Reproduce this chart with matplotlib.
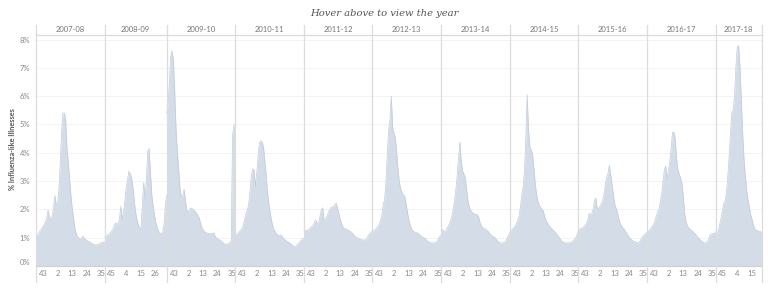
import numpy as np
import matplotlib.pyplot as plt

# weekly % ILI per season
seasons = ["2007-08", "2008-09", "2009-10", "2010-11", "2011-12", "2012-13",
           "2013-14", "2014-15", "2015-16", "2016-17", "2017-18"]
first_week = [38, 40, 38, 38, 38, 38, 38, 38, 38, 38, 40]

ili_2007 = [1.06, 1.05, 1.15, 1.24, 1.30, 1.38, 1.46, 1.55, 1.70, 1.97, 1.70, 1.68, 1.76,
            2.05, 2.49, 2.15, 2.20, 2.70, 3.60, 4.70, 5.40, 5.40, 5.20, 4.20, 3.65, 3.05,
            2.47, 2.00, 1.62, 1.30, 1.12, 1.02, 0.98, 0.96, 0.98, 1.05, 0.96, 0.92, 0.89,
            0.86, 0.84, 0.80, 0.78, 0.75, 0.74, 0.74, 0.75, 0.78, 0.81, 0.83, 0.84, 0.85]
ili_2008 = [1.02, 1.05, 1.08, 1.11, 1.16, 1.22, 1.28, 1.40, 1.52, 1.47, 1.50, 1.65, 2.10,
            1.65, 1.90, 2.30, 2.75, 3.05, 3.35, 3.25, 3.10, 2.80, 2.30, 1.88, 1.65, 1.45,
            1.35, 1.30, 2.20, 2.95, 2.35, 3.05, 4.05, 4.15, 3.30, 2.50, 2.10, 1.80, 1.52,
            1.35, 1.22, 1.16, 1.15, 1.16, 1.45, 2.10, 2.50]
ili_2009 = [5.40, 5.65, 6.50, 7.40, 7.60, 7.30, 6.20, 4.80, 4.00, 3.40, 2.70, 2.45, 2.45,
            2.70, 2.30, 1.95, 1.90, 1.98, 2.05, 2.02, 1.97, 1.93, 1.88, 1.80, 1.72, 1.55,
            1.38, 1.28, 1.22, 1.18, 1.16, 1.15, 1.14, 1.14, 1.13, 1.17, 1.05, 0.98, 0.95,
            0.92, 0.90, 0.86, 0.81, 0.77, 0.75, 0.77, 0.79, 0.83, 0.88, 4.60, 4.95, 5.00]
ili_2010 = [1.07, 1.10, 1.15, 1.20, 1.26, 1.31, 1.45, 1.65, 1.85, 1.97, 2.17, 2.65, 3.20,
            3.43, 3.40, 2.80, 3.30, 3.90, 4.35, 4.42, 4.38, 4.20, 3.70, 3.20, 2.58, 2.20,
            1.88, 1.60, 1.38, 1.25, 1.18, 1.12, 1.08, 1.06, 1.10, 1.02, 0.96, 0.92, 0.88,
            0.85, 0.82, 0.78, 0.75, 0.70, 0.67, 0.68, 0.74, 0.80, 0.85, 0.90, 0.95, 0.98]
ili_2011 = [1.25, 1.24, 1.25, 1.27, 1.29, 1.36, 1.40, 1.44, 1.55, 1.62, 1.50, 1.52, 1.76,
            2.00, 2.05, 1.60, 1.65, 1.74, 1.85, 1.97, 2.05, 2.08, 2.11, 2.15, 2.22, 2.05,
            1.85, 1.65, 1.50, 1.38, 1.31, 1.31, 1.29, 1.26, 1.23, 1.20, 1.16, 1.10, 1.04,
            1.00, 0.98, 0.96, 0.94, 0.92, 0.91, 0.91, 0.92, 0.99, 1.08, 1.14, 1.20, 1.25]
ili_2012 = [1.23, 1.25, 1.28, 1.32, 1.40, 1.46, 1.60, 1.78, 2.20, 2.32, 3.00, 3.90, 4.80,
            5.18, 6.00, 4.90, 4.68, 4.55, 4.00, 3.40, 2.95, 2.72, 2.58, 2.52, 2.45, 2.20,
            1.90, 1.64, 1.45, 1.31, 1.24, 1.20, 1.18, 1.17, 1.15, 1.10, 1.05, 1.02, 1.00,
            0.97, 0.92, 0.87, 0.84, 0.82, 0.81, 0.81, 0.81, 0.83, 0.86, 0.95, 1.03, 1.09]
ili_2013 = [1.25, 1.28, 1.22, 1.18, 1.29, 1.38, 1.47, 1.58, 1.75, 2.00, 2.30, 2.70, 3.20,
            3.85, 4.38, 3.70, 3.35, 3.25, 3.10, 2.70, 2.30, 2.08, 1.96, 1.90, 1.85, 1.83,
            1.82, 1.80, 1.72, 1.52, 1.42, 1.34, 1.32, 1.30, 1.25, 1.22, 1.15, 1.10, 1.06,
            1.03, 1.00, 0.95, 0.87, 0.84, 0.81, 0.81, 0.81, 0.83, 0.87, 0.98, 1.07, 1.15]
ili_2014 = [1.17, 1.22, 1.29, 1.35, 1.40, 1.50, 1.60, 1.76, 2.10, 2.50, 2.80, 3.40, 4.50,
            6.05, 4.80, 4.20, 4.10, 3.95, 3.45, 2.90, 2.52, 2.29, 2.14, 2.06, 2.02, 1.93,
            1.75, 1.60, 1.52, 1.44, 1.38, 1.32, 1.27, 1.23, 1.17, 1.11, 1.05, 0.99, 0.92,
            0.86, 0.83, 0.81, 0.81, 0.81, 0.81, 0.82, 0.84, 0.88, 0.93, 0.99, 1.10, 1.25]
ili_2015 = [1.15, 1.30, 1.31, 1.34, 1.38, 1.43, 1.50, 1.60, 1.85, 1.80, 1.85, 2.00, 2.30,
            2.40, 2.05, 2.02, 2.10, 2.18, 2.29, 2.50, 2.85, 3.10, 3.25, 3.55, 3.25, 2.90,
            2.55, 2.20, 2.05, 1.90, 1.68, 1.52, 1.42, 1.35, 1.30, 1.22, 1.15, 1.07, 1.00,
            0.95, 0.90, 0.87, 0.85, 0.83, 0.81, 0.82, 0.88, 0.98, 1.05, 1.10, 1.14, 1.17]
ili_2016 = [1.17, 1.22, 1.27, 1.32, 1.40, 1.46, 1.60, 1.76, 1.90, 2.00, 2.30, 2.55, 3.00,
            3.40, 3.52, 3.10, 3.35, 3.70, 4.15, 4.72, 4.72, 4.50, 3.80, 3.41, 3.25, 3.11,
            2.94, 2.47, 1.88, 1.58, 1.42, 1.34, 1.30, 1.26, 1.22, 1.17, 1.12, 1.05, 1.00,
            0.95, 0.90, 0.86, 0.82, 0.81, 0.82, 0.86, 0.95, 1.10, 1.13, 1.14, 1.13, 1.20]
ili_2017 = [1.02, 1.08, 1.22, 1.45, 1.67, 1.90, 2.20, 2.30, 2.56, 3.15, 3.86, 4.68, 5.42,
            5.50, 5.98, 7.04, 7.75, 7.78, 7.04, 5.86, 4.68, 3.74, 3.15, 2.65, 2.30, 2.05,
            1.79, 1.62, 1.42, 1.30, 1.26, 1.24, 1.20, 1.22, 1.15]

ili = [ili_2007, ili_2008, ili_2009, ili_2010, ili_2011, ili_2012,
       ili_2013, ili_2014, ili_2015, ili_2016, ili_2017]

week_ticks = [[43, 2, 13, 24, 35], [45, 4, 15, 26], [43, 2, 13, 24, 35],
              [43, 2, 13, 24, 35], [43, 2, 13, 24, 35], [43, 2, 13, 24, 35],
              [43, 2, 13, 24, 35], [43, 2, 13, 24, 35], [43, 2, 13, 24, 35],
              [43, 2, 13, 24, 35], [45, 4, 15]]

plt.rcParams['font.family'] = ['Lato', 'DejaVu Sans']

fig = plt.figure(figsize=(7.68, 2.88), dpi=100)
ax = fig.add_axes([36 / 768, 1 - 265.8 / 288, 725.7 / 768, 230.8 / 288])

fill_col = '#d3dce7'
edge_col = '#c2ccd9'
div_col = '#dcdcdc'

tick_pos = []
tick_lab = []
offset = 0
for name, vals, fw, wt in zip(seasons, ili, first_week, week_ticks):
    n = len(vals)
    x = np.linspace(offset, offset + n, n)
    ax.fill_between(x, 0, vals, color=fill_col, lw=0, zorder=2)
    ax.plot(x, vals, color=edge_col, lw=0.5, zorder=3)
    ax.axvline(offset, ymin=-0.07, ymax=1.043, color=div_col, lw=0.9,
               clip_on=False, zorder=4)
    ax.text(offset + n / 2, 1.022, name, transform=ax.get_xaxis_transform(),
            ha='center', va='center', fontsize=5.5, color='#777777')
    for w in wt:
        idx = w - fw if w >= fw else w + 52 - fw
        tick_pos.append(offset + idx + 0.5)
        tick_lab.append(str(w))
    offset += n

ax.axvline(offset, ymin=-0.07, ymax=1.043, color=div_col, lw=0.9,
           clip_on=False, zorder=4)

ax.set_xlim(0, offset)
ax.set_ylim(0, 8.16)

ax.set_yticks(range(9))
ax.set_yticklabels([f"{v}%" for v in range(9)])
ax.yaxis.grid(True, color='#f1f1f1', lw=0.6, zorder=0)
ax.set_xticks(tick_pos)
ax.set_xticklabels(tick_lab)
ax.tick_params(axis='both', length=0, labelsize=5.5, labelcolor='#888888')
ax.tick_params(axis='x', pad=3)
ax.tick_params(axis='y', pad=4)
ax.get_yticklabels()[0].set_verticalalignment('bottom')

for side in ['left', 'right']:
    ax.spines[side].set_visible(False)
ax.spines['top'].set_color(div_col)
ax.spines['bottom'].set_color('#d0d0d0')
ax.spines['top'].set_linewidth(0.9)
ax.spines['bottom'].set_linewidth(0.9)

fig.text(13 / 768, 0.483, "% Influenza-like Illnesses", rotation=90,
         ha='center', va='center', fontsize=5.3, color='#555555',
         fontweight='bold')
fig.text(0.5, 1 - 14 / 288, "Hover above to view the year", ha='center',
         va='center', fontsize=7.2, color='#555555', style='italic',
         family='DejaVu Serif')

fig.savefig('out.png', dpi=100)
